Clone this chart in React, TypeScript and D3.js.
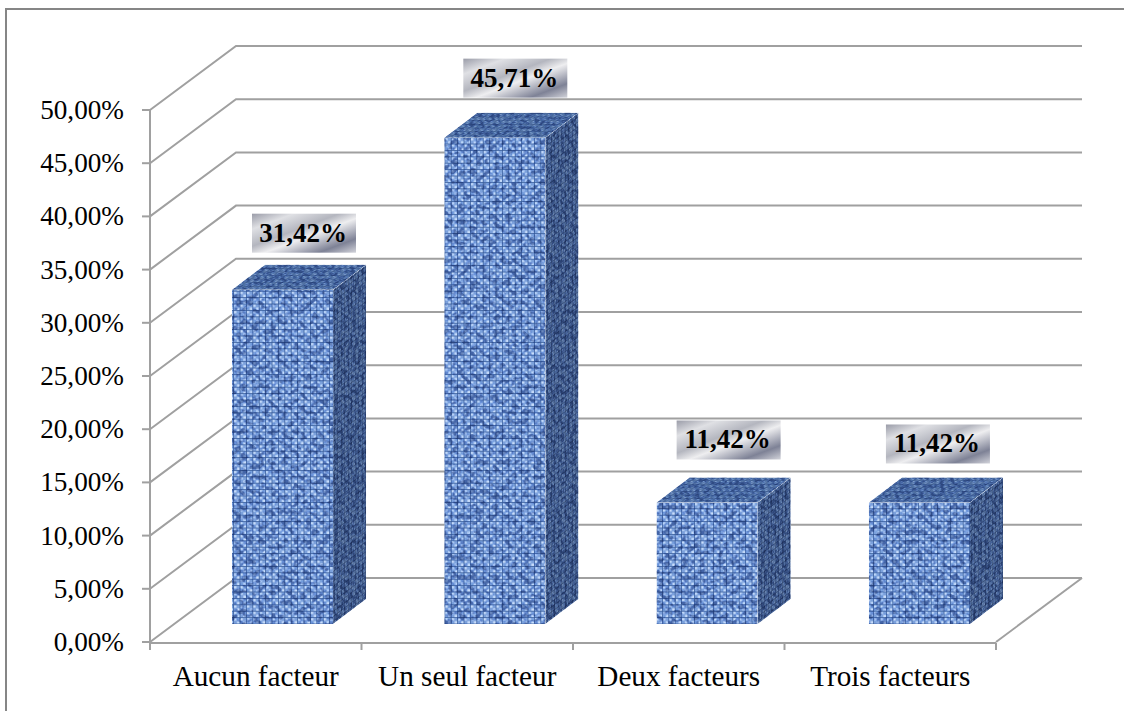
import React from "react";
import * as d3 from "d3";

const categories = ["Aucun facteur", "Un seul facteur", "Deux facteurs", "Trois facteurs"];
const values = [31.42, 45.71, 11.42, 11.42];
const valueLabels = ["31,42%", "45,71%", "11,42%", "11,42%"];
const yTicks = [0, 5, 10, 15, 20, 25, 30, 35, 40, 45, 50];
const yTickLabels = ["0,00%", "5,00%", "10,00%", "15,00%", "20,00%", "25,00%", "30,00%", "35,00%", "40,00%", "45,00%", "50,00%"];

// Hand placement of the value badges relative to each bar's front-top corner.
const badgeNudgeX = [20, 19, 20, 17];
const badgeNudgeY = [-37, -40, -43, -39];

const WIDTH = 1124;
const HEIGHT = 711;
const GRID = "#a0a0a0";
const SERIF = "'Liberation Serif', serif";

// 3D projection of the chart box.
const WALL_DX = 86;
const WALL_DY = -64;
const BAR_DX = 33;
const BAR_DY = -25;
const BAR_LIFT = 18;

const y = d3.scaleLinear().domain([0, 50]).range([642, 110]);
const xAxis = d3.scaleBand<string>().domain(categories).range([150, 996]);
const xBars = d3.scaleBand<string>().domain(categories).range([232, 970]).paddingInner(0.524).paddingOuter(0);

const path = d3.line();

type NoiseProps = { id: string; freq: string; seed: number; low: number; high: number; blur: number };

// Woven-cloth shading: turbulence multiplied over the weave pattern fill, tinted towards blue.
const ClothFilter = ({ id, freq, seed, low, high, blur }: NoiseProps) => {
  const slope = high - low;
  return (
    <filter id={id} x="0" y="0" width="1" height="1" colorInterpolationFilters="sRGB">
      <feTurbulence type="fractalNoise" baseFrequency={freq} numOctaves={2} seed={seed} result="n" />
      <feColorMatrix
        in="n"
        type="matrix"
        values="3.4 0 0 0 -1.2  3.4 0 0 0 -1.2  3.4 0 0 0 -1.2  0 0 0 0 1"
        result="contrast"
      />
      <feComponentTransfer in="contrast" result="tone">
        <feFuncR type="linear" slope={slope * 1.1} intercept={low - 0.08} />
        <feFuncG type="linear" slope={slope} intercept={low} />
        <feFuncB type="linear" slope={slope * 0.8} intercept={low + 0.14} />
      </feComponentTransfer>
      <feBlend in="SourceGraphic" in2="tone" mode="multiply" result="woven" />
      <feGaussianBlur in="woven" stdDeviation={blur} edgeMode="duplicate" result="soft" />
      <feComposite in="soft" in2="SourceAlpha" operator="in" />
    </filter>
  );
};

const WeavePattern = ({ id, size, base, hi, lo, transform }: { id: string; size: number; base: string; hi: string; lo: string; transform?: string }) => (
  <pattern id={id} width={size} height={size} patternUnits="userSpaceOnUse" patternTransform={transform}>
    <rect width={size} height={size} fill={base} />
    <rect x={size * 0.04} y={size * 0.06} width={size * 0.4} height={size * 0.36} fill={hi} />
    <rect x={size * 0.58} y={size * 0.6} width={size * 0.36} height={size * 0.34} fill={hi} />
    <rect x={size * 0.46} y={0} width={size * 0.1} height={size} fill={lo} />
    <rect x={0} y={size * 0.46} width={size} height={size * 0.1} fill={lo} />
  </pattern>
);

export default function App() {
  const backRight = xAxis.range()[1] + WALL_DX;
  const axisLeft = xAxis.range()[0];
  const axisRight = xAxis.range()[1];
  const ticksX = [...categories.map((c) => xAxis(c) as number), axisRight];

  return (
    <svg
      width={WIDTH}
      height={HEIGHT}
      viewBox={`0 0 ${WIDTH} ${HEIGHT}`}
      style={{ position: "absolute", left: 0, top: 0, background: "#fff" }}
    >
      <defs>
        <WeavePattern id="weaveFront" size={6.4} base="#7ca1dc" hi="#cbdffc" lo="#2f5290" />
        <WeavePattern id="weaveSide" size={5} base="#4f6b99" hi="#6f89b4" lo="#22345a" transform="skewY(-37) scale(0.7 1)" />
        <WeavePattern id="weaveTop" size={6} base="#5475a8" hi="#7d9ccc" lo="#2f4c7e" transform="skewX(-53) scale(1 0.6)" />
        <ClothFilter id="clothFront" freq="0.17 0.2" seed={7} low={0.62} high={1.2} blur={0.65} />
        <ClothFilter id="clothSide" freq="0.34 0.2" seed={3} low={0.62} high={1.15} blur={0.5} />
        <ClothFilter id="clothTop" freq="0.2 0.34" seed={11} low={0.68} high={1.15} blur={0.5} />
        <linearGradient id="metal" x1="0" y1="0" x2="1" y2="1">
          <stop offset="0" stopColor="#9a9ca8" />
          <stop offset="0.2" stopColor="#dfe0e4" />
          <stop offset="0.42" stopColor="#b4b6bf" />
          <stop offset="0.56" stopColor="#eeeef0" />
          <stop offset="0.82" stopColor="#7e8296" />
          <stop offset="1" stopColor="#d2d3da" />
        </linearGradient>
      </defs>

      {/* Outer frame: top and left edges only */}
      <path d={`M6 ${HEIGHT}V9H${WIDTH}`} fill="none" stroke="#868686" strokeWidth={2} />

      {/* Side wall and back wall gridlines */}
      <g fill="none" stroke={GRID} strokeWidth={2}>
        {yTicks.map((t) => {
          const yy = y(t);
          const points: [number, number][] = [
            [axisLeft, yy],
            [axisLeft + WALL_DX, yy + WALL_DY],
            [backRight, yy + WALL_DY],
          ];
          return <path key={t} d={path(points) as string} />;
        })}
        <path
          d={path([
            [axisRight, y(0)],
            [backRight, y(0) + WALL_DY],
          ]) as string}
        />
        {/* Front axes and tick marks */}
        <path d={`M${axisLeft} ${y(50)}V650`} />
        <path d={`M${axisLeft} 643H${axisRight}`} />
        {yTicks.map((t) => (
          <path key={t} d={`M142 ${y(t)}H${axisLeft}`} />
        ))}
        {ticksX.map((x) => (
          <path key={x} d={`M${x} 643V650`} />
        ))}
      </g>

      {/* Bars */}
      {categories.map((c, i) => {
        const x0 = xBars(c) as number;
        const x1 = x0 + xBars.bandwidth();
        const top = y(values[i]) - BAR_LIFT;
        const base = y(0) - BAR_LIFT;
        const side: [number, number][] = [
          [x1, top],
          [x1 + BAR_DX, top + BAR_DY],
          [x1 + BAR_DX, base + BAR_DY],
          [x1, base],
        ];
        const lid: [number, number][] = [
          [x0, top],
          [x0 + BAR_DX, top + BAR_DY],
          [x1 + BAR_DX, top + BAR_DY],
          [x1, top],
        ];
        return (
          <g key={c}>
            <rect x={x0} y={top} width={xBars.bandwidth()} height={base - top} fill="url(#weaveFront)" filter="url(#clothFront)" />
            <path d={`${path(side)}Z`} fill="url(#weaveSide)" filter="url(#clothSide)" />
            <path d={`${path(lid)}Z`} fill="url(#weaveTop)" filter="url(#clothTop)" />
          </g>
        );
      })}

      {/* Value badges */}
      {categories.map((c, i) => {
        const bx = (xBars(c) as number) + badgeNudgeX[i];
        const top = y(values[i]) - BAR_LIFT;
        const by = top + badgeNudgeY[i] - 39;
        return (
          <g key={c}>
            <rect x={bx} y={by} width={104} height={39} fill="url(#metal)" />
            <text x={bx + 51} y={by + 28} textAnchor="middle" fontFamily={SERIF} fontWeight="bold" fontSize={27} fill="#000">
              {valueLabels[i]}
            </text>
          </g>
        );
      })}

      {/* Value axis labels */}
      {yTicks.map((t, i) => (
        <text key={t} x={124} y={y(t) + 9} textAnchor="end" fontFamily={SERIF} fontSize={27.2} fill="#000">
          {yTickLabels[i]}
        </text>
      ))}

      {/* Category labels */}
      {categories.map((c) => (
        <text
          key={c}
          x={(xAxis(c) as number) + xAxis.bandwidth() / 2}
          y={686}
          textAnchor="middle"
          fontFamily={SERIF}
          fontSize={29.2}
          fill="#000"
        >
          {c}
        </text>
      ))}
    </svg>
  );
}
